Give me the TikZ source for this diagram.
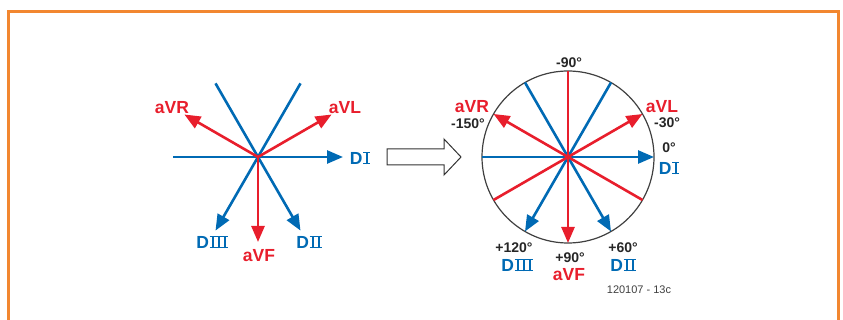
\documentclass[tikz,border=0pt]{standalone}
\usepackage{fontspec}
\setmainfont{Liberation Sans}
\usetikzlibrary{arrows.meta}

\definecolor{leadblue}{RGB}{0,106,180}
\definecolor{leadred}{RGB}{232,30,44}
\definecolor{frameorange}{RGB}{242,135,48}

% roman numerals with top and bottom bars
\newcommand{\rombars}[1]{\rlap{\rule{#1}{1.6pt}}\rlap{\rule[11pt]{#1}{1.6pt}}}
\newcommand{\romstem}{\rule{2.2pt}{12.6pt}}
\newcommand{\romI}{\hbox to 7pt{\rombars{7pt}\hfil\romstem\hfil}}
\newcommand{\romII}{\hbox to 12pt{\rombars{12pt}\hspace{2pt}\romstem\hfil\romstem\hspace{2pt}}}
\newcommand{\romIII}{\hbox to 18pt{\rombars{18pt}\hspace{2pt}\romstem\hfil\romstem\hfil\romstem\hspace{2pt}}}
\newcommand{\leadD}[1]{D\kern0.8pt#1}

\tikzset{
  bluelead/.style={draw=leadblue, line width=2.6pt},
  redlead/.style={draw=leadred, line width=2.6pt},
  tipped/.style={-{Triangle[length=16pt,width=13pt]}},
  bluelabel/.style={text=leadblue, inner sep=0pt, font=\fontsize{17.5}{17.5}\selectfont\bfseries},
  redlabel/.style={text=leadred, inner sep=0pt, font=\fontsize{17.5}{17.5}\selectfont\bfseries},
  anglabel/.style={text=black!85, inner sep=0pt, font=\fontsize{14}{14}\selectfont\bfseries}
}

\begin{document}
\begin{tikzpicture}[x=1pt,y=-1pt]
    \useasboundingbox (0,0) rectangle (843,320);
    \draw[frameorange, line width=3pt] (8,320) -- (8,12) -- (838,12) -- (838,320);

    % left: the six leads
    \coordinate (lc) at (258,157);
    \foreach \a in {0,30,...,330}
        \path (lc) +(\a:85) coordinate (l\a);

    \draw[bluelead,tipped] (l180) -- (l0);
    \draw[bluelead,tipped] (l240) -- (l60);
    \draw[bluelead,tipped] (l300) -- (l120);
    \draw[redlead,tipped] (lc) -- (l330);
    \draw[redlead,tipped] (lc) -- (l210);
    \draw[redlead,tipped] (lc) -- (l90);

    \node[redlabel] (lavr) at (172,108) {aVR};
    \node[redlabel] (lavl) at (345,108) {aVL};
    \node[bluelabel] (ldi) at (360,158) {\leadD{\romI}};
    \node[bluelabel] (ldiii) at (212,242) {\leadD{\romIII}};
    \node[redlabel] (lavf) at (259,256) {aVF};
    \node[bluelabel] (ldii) at (309,242) {\leadD{\romII}};

    % hollow arrow
    \draw[black!80, line width=1pt, line join=miter]
        (387,149) -- (444,149) -- (444,139) -- (461,157) -- (444,175)
        -- (444,165) -- (387,165) -- cycle;

    % right: hexaxial circle
    \coordinate (rc) at (568,157);
    \foreach \a in {0,30,...,330}
        \path (rc) +(\a:86) coordinate (r\a);

    \draw[black!75, line width=1.2pt] (rc) circle (86pt);
    \draw[bluelead,tipped] (r180) -- (r0);
    \draw[bluelead,tipped] (r240) -- (r60);
    \draw[bluelead,tipped] (r300) -- (r120);
    \draw[redlead,tipped] (r270) -- (r90);
    \draw[redlead,tipped] (r150) -- (r330);
    \draw[redlead,tipped] (r30) -- (r210);

    \node[anglabel] (m90) at (569,63) {-90°};
    \node[redlabel] (ravr) at (472,107) {aVR};
    \node[anglabel] (m150) at (468,124) {-150°};
    \node[redlabel] (ravl) at (662,107) {aVL};
    \node[anglabel] (m30) at (667,123) {-30°};
    \node[anglabel] (p0) at (669,148) {0°};
    \node[bluelabel] (rdi) at (669,168) {\leadD{\romI}};
    \node[anglabel] (p120) at (514,248) {+120°};
    \node[bluelabel] (rdiii) at (517,265) {\leadD{\romIII}};
    \node[anglabel] (p90) at (570,258) {+90°};
    \node[redlabel] (ravf) at (569,275) {aVF};
    \node[anglabel] (p60) at (623,248) {+60°};
    \node[bluelabel] (rdii) at (623,265) {\leadD{\romII}};
    \node[text=black!75, inner sep=0pt, font=\fontsize{11}{11}\selectfont] (fig) at (639,290) {120107 - 13c};
\end{tikzpicture}
\end{document}
